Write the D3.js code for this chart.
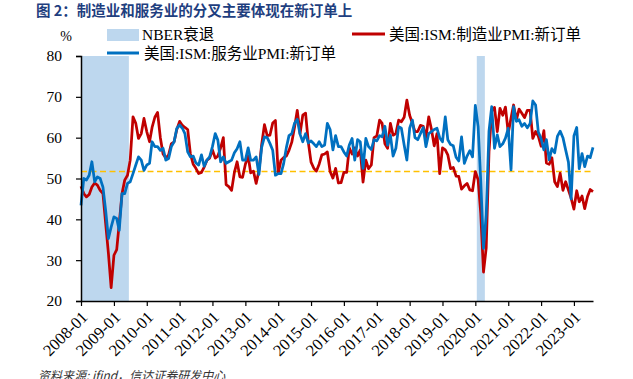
<!DOCTYPE html>
<html>
<head>
<meta charset="utf-8">
<script src="https://cdn.jsdelivr.net/npm/d3@7"></script>
<style>
body { margin: 0; background: #fff; }
svg { display: block; }
</style>
</head>
<body>
<svg id="chart" width="633" height="379"></svg>
<script>
// data: one value per month, starting 2008-01
var startMonth = "2008-01";

var mfgNewOrders = [
  48.1, 46.3, 45.5, 46.1, 47.9, 48.9, 48.4, 47.1, 46.3, 39.0, 31.6, 23.3,
  31.2, 32.6, 39.0, 46.3, 49.6, 50.8, 54.5, 65.1, 63.5, 59.8, 61.0, 64.7,
  61.5, 59.0, 62.5, 65.0, 66.2, 60.0, 56.0, 55.0, 55.8, 58.5, 59.0, 62.0,
  64.0, 63.0, 62.5, 62.0, 56.0, 53.5, 52.5, 51.2, 51.5, 52.8, 54.5, 55.0,
  57.0, 55.0, 55.5, 57.5, 60.0, 48.5, 48.0, 47.1, 51.5, 54.1, 50.4, 50.3,
  53.5, 55.5, 51.4, 51.8, 48.8, 51.9, 58.3, 63.2, 60.5, 60.6, 63.6, 64.2,
  51.2, 54.5, 55.1, 55.5, 56.9, 58.9, 62.5, 66.7, 61.0, 65.5, 66.0, 59.0,
  54.0, 52.5, 51.8, 53.5, 55.8, 56.0, 56.5, 51.7, 50.1, 52.5, 48.9, 49.0,
  51.5, 51.5, 57.5, 56.0, 57.5, 55.5, 57.0, 49.1, 54.5, 52.4, 53.3, 60.0,
  60.4, 64.3, 63.5, 58.5, 57.4, 63.5, 60.6, 61.0, 64.3, 63.9, 65.0, 69.2,
  65.5, 63.5, 61.5, 61.5, 63.0, 62.8, 60.0, 65.1, 62.0, 58.0, 61.0, 51.2,
  57.5, 57.0, 55.8, 52.4, 52.7, 50.6, 50.5, 47.4, 48.2, 48.8, 47.2, 47.0,
  51.7, 49.7, 41.5, 27.1, 33.0, 56.5, 66.5, 67.4, 61.5, 67.2, 65.5, 67.5,
  61.1, 64.8, 68.0, 64.3, 67.0, 66.0, 64.9, 66.7, 66.7, 59.8, 61.5, 60.4,
  57.9, 61.7, 53.8, 53.5, 55.1, 49.2, 48.0, 51.3, 47.1, 49.2, 47.2, 45.2,
  42.5, 47.0, 44.3, 45.7, 42.6, 45.6, 47.3, 46.8
];

var svcNewOrders = [
  43.4, 50.0, 49.6, 50.8, 54.1, 49.2, 50.4, 50.0, 47.9, 42.2, 35.3, 38.1,
  40.6, 40.2, 37.3, 46.3, 46.3, 48.8, 49.2, 51.2, 53.3, 55.3, 54.5, 52.0,
  53.3, 53.7, 59.0, 57.8, 57.8, 56.9, 57.4, 54.5, 54.9, 57.8, 59.0, 62.3,
  63.1, 62.3, 61.0, 56.5, 55.3, 55.5, 53.8, 53.3, 55.8, 53.0, 54.5, 55.3,
  57.8, 61.0, 59.4, 54.1, 55.3, 53.7, 54.1, 54.5, 56.3, 57.3, 59.0, 54.5,
  54.5, 57.5, 54.5, 54.5, 55.3, 51.0, 57.6, 60.2, 60.0, 58.6, 56.9, 50.8,
  51.2, 51.2, 53.5, 57.5, 60.5, 61.0, 63.5, 64.5, 60.8, 59.0, 61.0, 58.7,
  59.2, 58.5, 57.8, 59.0, 57.8, 58.2, 63.5, 62.0, 57.0, 60.5, 57.8, 57.8,
  56.5, 55.5, 58.2, 59.8, 54.5, 59.5, 59.0, 52.5, 59.8, 57.8, 57.1, 59.5,
  59.2, 60.5, 60.2, 62.8, 58.2, 60.6, 55.5, 57.4, 62.7, 62.3, 58.2, 54.5,
  62.3, 64.3, 60.0, 59.5, 61.0, 62.5, 57.8, 61.0, 61.5, 62.0, 62.3, 60.0,
  59.0, 65.1, 59.5, 58.3, 58.0, 55.2, 54.3, 60.2, 53.7, 55.5, 56.8, 55.3,
  67.9, 62.7, 49.5, 32.9, 41.1, 61.6, 67.6, 57.4, 60.7, 57.8, 58.5, 59.9,
  62.3, 52.1, 67.6, 64.0, 64.4, 62.8, 63.5, 62.4, 63.5, 69.0, 68.0, 61.4,
  59.8, 57.0, 59.5, 54.6, 57.3, 56.3, 60.3, 61.6, 60.0, 57.0, 54.0, 45.0,
  60.4, 62.5, 52.4, 56.1, 52.9, 55.5, 55.1, 57.6
];

// NBER recessions, first and last month
var recessions = [["2007-12", "2009-06"], ["2020-02", "2020-04"]];

var refLevel = 51.7;
var yTicks = [20, 30, 40, 50, 60, 70, 80];
var xTickLabels = ["2008-01", "2009-01", "2010-01", "2011-01", "2012-01", "2013-01",
  "2014-01", "2015-01", "2016-01", "2017-01", "2018-01", "2019-01", "2020-01",
  "2021-01", "2022-01", "2023-01"];

var titleText = "图 2：制造业和服务业的分叉主要体现在新订单上";
var sourceText = "资料来源: ifind，信达证券研发中心";
var mfgName = "美国:ISM:制造业PMI:新订单";
var svcName = "美国:ISM:服务业PMI:新订单";

// layout
var serif = "'Liberation Serif','Times New Roman','Noto Sans CJK SC',serif";
var plotL = 81, plotR = 593, plotT = 56, plotB = 301;
var red = "#C00000", blue = "#0070C0", shade = "#BDD7EE", gold = "#FFC000";

var parse = d3.timeParse("%Y-%m");
var first = parse(startMonth);
var months = d3.timeMonth.range(first, d3.timeMonth.offset(first, mfgNewOrders.length));

var x = d3.scaleTime()
    .domain([months[0], months[months.length - 1]])
    .range([plotL, plotR]);
var y = d3.scaleLinear().domain([20, 80]).range([plotB, plotT]);

var svg = d3.select("#chart");

// title
svg.append("text")
    .attr("x", 36)
    .attr("y", 16)
    .attr("font-family", "'Noto Sans CJK SC',sans-serif")
    .attr("font-weight", 700)
    .attr("font-size", 14.5)
    .attr("fill", "#1F3F7F")
    .text(titleText);

// recession shading, each month as a column centred on the month
function halfMonth(d) {
  return (x(d3.timeMonth.offset(d, 1)) - x(d)) / 2;
}
svg.append("g").selectAll("rect")
    .data(recessions)
    .enter()
    .append("rect")
    .attr("x", function(d) {
      var a = parse(d[0]);
      return Math.max(plotL, x(a) - halfMonth(a));
    })
    .attr("width", function(d) {
      var a = parse(d[0]), b = parse(d[1]);
      var x0 = Math.max(plotL, x(a) - halfMonth(a));
      return x(b) + halfMonth(b) - x0;
    })
    .attr("y", plotT)
    .attr("height", plotB - plotT)
    .attr("fill", shade);

// reference line
svg.append("line")
    .attr("x1", plotL).attr("x2", plotR)
    .attr("y1", y(refLevel)).attr("y2", y(refLevel))
    .attr("stroke", gold)
    .attr("stroke-width", 1.5)
    .attr("stroke-dasharray", "6,3.5");

var line = d3.line()
    .x(function(d, i) { return x(months[i]); })
    .y(function(d) { return y(d); });

svg.append("path")
    .datum(mfgNewOrders)
    .attr("d", line)
    .attr("fill", "none")
    .attr("stroke", red)
    .attr("stroke-width", 2.75)
    .attr("stroke-linejoin", "round");

svg.append("path")
    .datum(svcNewOrders)
    .attr("d", line)
    .attr("fill", "none")
    .attr("stroke", blue)
    .attr("stroke-width", 2.75)
    .attr("stroke-linejoin", "round");

// axes
var yAxis = d3.axisLeft(y).tickValues(yTicks).tickSize(5).tickPadding(14);
var gy = svg.append("g")
    .attr("transform", "translate(" + plotL + ",0)")
    .call(yAxis);
gy.select(".domain").attr("stroke", "#000").attr("stroke-width", 1.5);
gy.selectAll(".tick line").attr("stroke", "#000").attr("stroke-width", 1.2);
gy.selectAll(".tick text")
    .attr("font-family", serif)
    .attr("font-size", 15.5)
    .attr("fill", "#000");

var xTickDates = xTickLabels.map(function(s) { return parse(s); });
var xAxis = d3.axisBottom(x)
    .tickValues(xTickDates)
    .tickSize(5)
    .tickSizeOuter(0)
    .tickFormat(function(d, i) { return xTickLabels[i]; });
var gx = svg.append("g")
    .attr("transform", "translate(0," + plotB + ")")
    .call(xAxis);
gx.select(".domain").attr("stroke", "#000").attr("stroke-width", 1.5);
gx.selectAll(".tick line").attr("stroke", "#000").attr("stroke-width", 1.2);
gx.selectAll(".tick text")
    .attr("font-family", serif)
    .attr("font-size", 16.5)
    .attr("fill", "#000")
    .attr("text-anchor", "end")
    .attr("dy", "0.35em")
    .attr("y", 0)
    .attr("transform", "translate(3,13) rotate(-45)");

// legend
svg.append("text")
    .attr("x", 66).attr("y", 41)
    .attr("text-anchor", "middle")
    .attr("font-family", serif)
    .attr("font-size", 14)
    .text("%");

var lg = svg.append("g").attr("font-family", serif).attr("font-size", 15.5);

lg.append("rect")
    .attr("x", 107).attr("y", 29).attr("width", 32).attr("height", 12)
    .attr("fill", shade);
lg.append("text").attr("x", 142).attr("y", 40).text("NBER衰退");

lg.append("line")
    .attr("x1", 352).attr("x2", 385).attr("y1", 34).attr("y2", 34)
    .attr("stroke", red).attr("stroke-width", 3);
lg.append("text").attr("x", 389).attr("y", 40).text(mfgName);

lg.append("line")
    .attr("x1", 107).attr("x2", 139).attr("y1", 53).attr("y2", 53)
    .attr("stroke", blue).attr("stroke-width", 3);
lg.append("text").attr("x", 144).attr("y", 59).text(svcName);

// source note
svg.append("text")
    .attr("x", 38).attr("y", 380)
    .attr("font-family", "'Noto Sans CJK SC',sans-serif")
    .attr("font-style", "italic")
    .attr("font-size", 12)
    .attr("fill", "#333")
    .text(sourceText);
</script>
</body>
</html>
